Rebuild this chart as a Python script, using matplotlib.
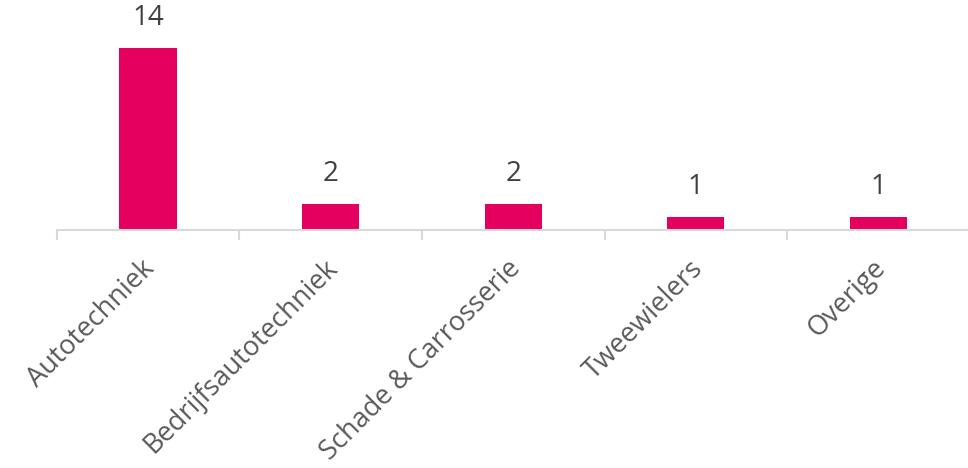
import matplotlib
matplotlib.use("Agg")
import matplotlib.pyplot as plt
import matplotlib.transforms as mtransforms
import numpy as np

categories = ["Autotechniek", "Bedrijfsautotechniek", "Schade & Carrosserie", "Tweewielers", "Overige"]
values = [14, 2, 2, 1, 1]

bar_color = "#E5005F"
grid_gray = "#D9D9D9"

plt.rcParams["font.family"] = ["Open Sans", "DejaVu Sans"]

fig = plt.figure(figsize=(9.68, 4.68), dpi=100)
ax = fig.add_axes([56.7 / 968, 1 - 229.5 / 468, 913 / 968, 208 / 468])

x = np.arange(len(categories))
bars = ax.bar(x, values, width=0.314, color=bar_color, zorder=2)

for xi, v in zip(x, values):
    ax.annotate(str(v), (xi, v), xytext=(0, 11), textcoords="offset points",
                ha="center", va="bottom", fontsize=20, color="#404040")

ax.set_xlim(-0.5, len(categories) - 0.5)
ax.set_ylim(0, 16)

for s in ["top", "right", "left"]:
    ax.spines[s].set_visible(False)
ax.spines["bottom"].set_color(grid_gray)
ax.spines["bottom"].set_linewidth(1.5)
ax.spines["bottom"].set_clip_on(False)
ax.set_yticks([])

ax.set_xticks(x)
ax.set_xticklabels(categories, rotation=45, ha="right", rotation_mode="anchor",
                   fontsize=19.5, color="#595959")
ax.tick_params(axis="x", which="major", length=0, pad=18)
ax.set_xticks(np.arange(-0.5, len(categories)), minor=True)
ax.tick_params(axis="x", which="minor", length=7.5, width=1.5, color=grid_gray)

# nudge the rotated labels a little to the left, like the original
shift = mtransforms.ScaledTranslation(-7 / 100, 0, fig.dpi_scale_trans)
for lbl in ax.get_xticklabels():
    lbl.set_transform(lbl.get_transform() + shift)

fig.savefig("out.png", dpi=100)
